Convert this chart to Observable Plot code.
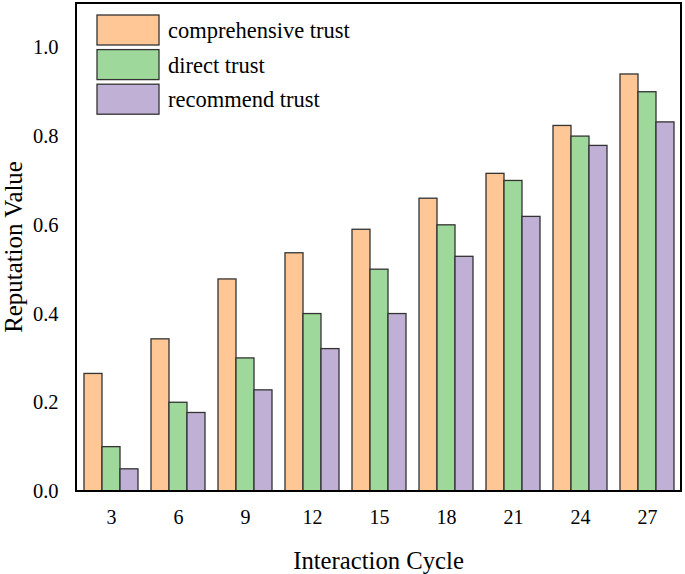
<!DOCTYPE html>
<html><head><meta charset="utf-8">
<script src="https://cdn.jsdelivr.net/npm/d3@7"></script>
<script src="https://cdn.jsdelivr.net/npm/@observablehq/plot@0.6"></script>
<style>body{margin:0;background:#fff}</style>
</head><body><div id="chart"></div>
<script>
const cycles = [3, 6, 9, 12, 15, 18, 21, 24, 27];
const seriesNames = ["comprehensive trust", "direct trust", "recommend trust"];
const comprehensive = [0.265, 0.343, 0.478, 0.537, 0.59, 0.66, 0.716, 0.824, 0.94];
const direct = [0.10, 0.20, 0.30, 0.40, 0.50, 0.60, 0.70, 0.80, 0.90];
const recommend = [0.05, 0.177, 0.228, 0.321, 0.40, 0.529, 0.619, 0.779, 0.832];
const colors = ["#ffc795", "#9ed89b", "#c1b0d6"];
const yTicks = [0, 0.2, 0.4, 0.6, 0.8, 1.0];
const xTitle = "Interaction Cycle";
const yTitle = "Reputation Value";

const seriesValues = [comprehensive, direct, recommend];
const data = cycles.flatMap((c, i) => seriesNames.map((s, k) => ({cycle: c, series: s, value: seriesValues[k][i]})));

const W = 685, H = 574, mL = 76, mR = 4, mT = 3, mB = 83;
const FONT = "Liberation Serif, Times New Roman, serif";

const plot = Plot.plot({
  width: W, height: H,
  marginLeft: mL, marginRight: mR, marginTop: mT, marginBottom: mB,
  style: {fontFamily: FONT, fontSize: "20px", color: "#000", background: "#fff"},
  fx: {domain: cycles, paddingInner: 0.2, paddingOuter: 0.1},
  x: {domain: seriesNames, axis: null, padding: 0},
  y: {domain: [0, 1.1]},
  color: {domain: seriesNames, range: colors},
  marks: [
    Plot.barY(data, {fx: "cycle", x: "series", y: "value", fill: "series", stroke: "#333", strokeWidth: 1.3, inset: 0}),
    Plot.axisFx({anchor: "bottom", tickSize: 0, tickPadding: 18, label: null, fontFamily: FONT, fontSize: 20}),
    Plot.axisY({ticks: yTicks, tickFormat: d3.format(".1f"), tickSize: 0, tickPadding: 26, label: null, fontFamily: FONT, fontSize: 20.5})
  ]
});

const svg = d3.select(plot);
svg.attr("font-family", FONT);
svg.selectAll("text").style("font-family", FONT);

// frame
svg.append("rect")
  .attr("x", mL).attr("y", mT)
  .attr("width", W - mL - mR).attr("height", H - mT - mB)
  .attr("fill", "none").attr("stroke", "#000").attr("stroke-width", 2);

// axis titles
svg.append("text").attr("x", (mL + W - mR) / 2).attr("y", 569)
  .attr("text-anchor", "middle").style("font-family", FONT).attr("font-size", "24.7px").attr("fill", "#000")
  .text(xTitle);
svg.append("text").attr("transform", `translate(22,${(mT + H - mB) / 2}) rotate(-90)`)
  .attr("text-anchor", "middle").style("font-family", FONT).attr("font-size", "24.9px").attr("fill", "#000")
  .text(yTitle);

// legend inside plot
const color = plot.scale("color");
const lg = svg.append("g").style("font-family", FONT).attr("font-size", "22.5px").attr("text-anchor", "start");
seriesNames.forEach((s, i) => {
  const y0 = 15 + i * 34.6;
  lg.append("rect").attr("x", 97).attr("y", y0).attr("width", 62).attr("height", 30)
    .attr("fill", color.range[color.domain.indexOf(s)]).attr("stroke", "#333").attr("stroke-width", 1.3);
  lg.append("text").attr("x", 168).attr("y", y0 + 15).attr("dy", "0.36em").attr("fill", "#000").text(s);
});

document.getElementById("chart").appendChild(plot);
</script>
</body></html>
